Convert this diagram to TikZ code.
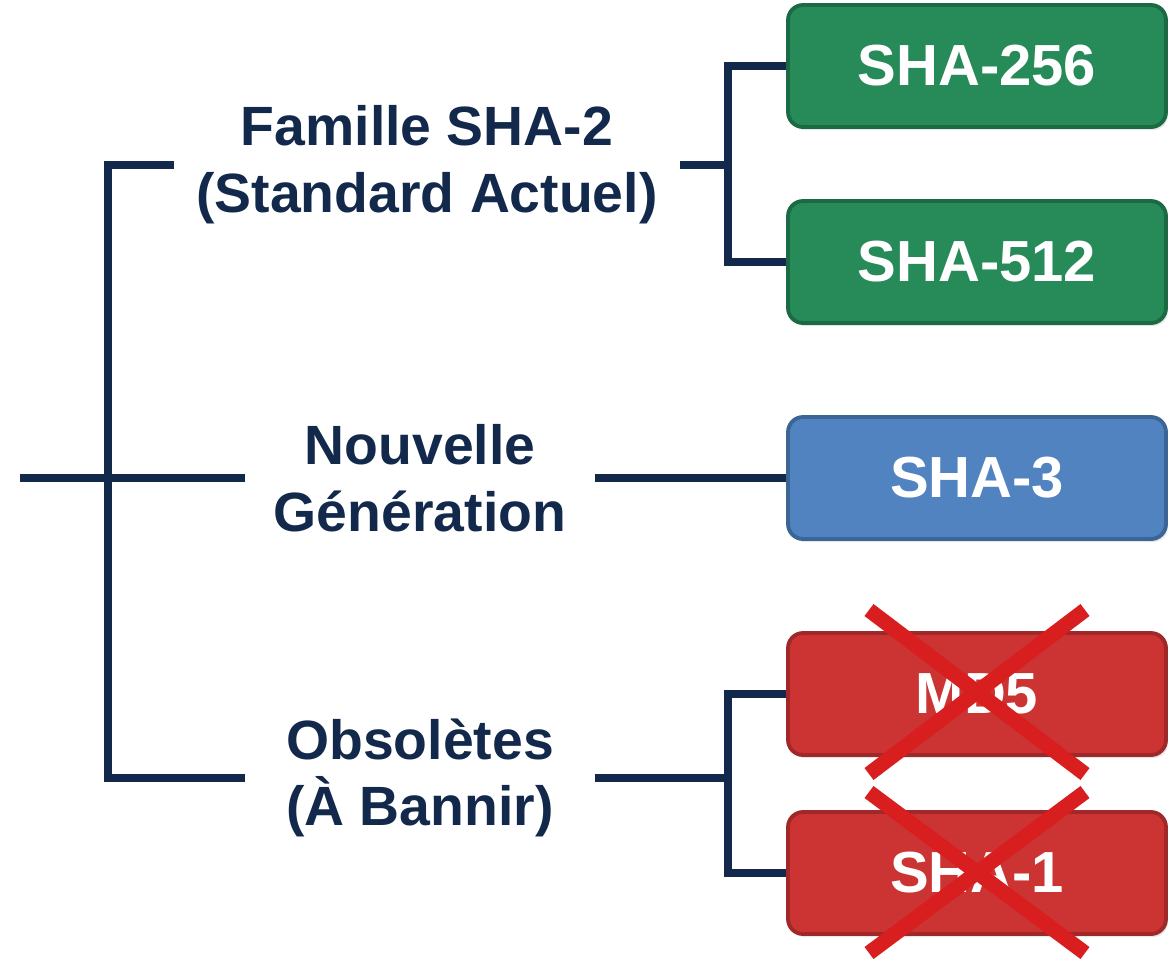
\documentclass[tikz,border=0pt]{standalone}
\usepackage{fontspec}
\setmainfont{Liberation Sans}
\usetikzlibrary{positioning,shadows}

\definecolor{navy}{HTML}{13294B}
\definecolor{okgreen}{HTML}{268B59}
\definecolor{okgreendark}{HTML}{1B6A43}
\definecolor{newblue}{HTML}{5083BF}
\definecolor{newbluedark}{HTML}{3A6596}
\definecolor{oldred}{HTML}{CC3333}
\definecolor{oldreddark}{HTML}{A02828}
\definecolor{crossred}{HTML}{D81E1E}

\begin{document}
\begin{tikzpicture}[
                    x=0.02cm, y=-0.02cm,
                    branch/.style={draw=navy, line width=4.3pt},
                    grouplabel/.style={align=center, text=navy, inner xsep=0pt, inner ysep=2pt,
                                       font=\fontsize{31.5}{38}\selectfont\bfseries},
                    algo/.style={rounded corners=0.3cm, line width=2.2pt, minimum width=7.56cm,
                                 minimum height=2.44cm, text=white,
                                 font=\fontsize{33}{38}\selectfont\bfseries,
                                 drop shadow={opacity=0.2, shadow xshift=0.04cm, shadow yshift=-0.06cm}},
                    safe/.style={algo, fill=okgreen, draw=okgreendark},
                    fresh/.style={algo, fill=newblue, draw=newbluedark},
                    broken/.style={algo, fill=oldred, draw=oldreddark},
                    cross/.style={draw=crossred, line width=0.3cm}
                    ]
    \useasboundingbox (0,0) rectangle (1176,965);

    % families
    \node [grouplabel, minimum width=10.1cm] (fam2) at (427,165) {Famille SHA-2\\(Standard Actuel)};
    \node [grouplabel, minimum width=7cm] (nouv) at (420,478) {Nouvelle\\Génération};
    \node [grouplabel, minimum width=7cm] (obso) at (420,778) {Obsolètes\\(À Bannir)};

    % algorithms
    \node [safe] (sha256) at (977,66) {SHA-256};
    \node [safe] (sha512) at (977,262) {SHA-512};
    \node [fresh] (sha3) at (977,478) {SHA-3};
    \node [broken] (md5) at (977,694) {MD5};
    \node [broken] (sha1) at (977,873) {SHA-1};

    \coordinate (root) at (20,478);
    \coordinate (hub) at (108,478);
    \coordinate (j1) at (728,165);
    \coordinate (j3) at (728,778);

    % tree
    \draw [branch] (fam2.west) -| (hub) |- (obso.west);
    \draw [branch] (root) -- (nouv.west);
    \draw [branch] (fam2.east) -- (j1);
    \draw [branch] (sha256.west) -| (j1) |- (sha512.west);
    \draw [branch] (nouv.east) -- (sha3.west);
    \draw [branch] (obso.east) -- (j3);
    \draw [branch] (md5.west) -| (j3) |- (sha1.west);

    % banned
    \draw [cross] ([shift={(-108,-84)}]md5.center) -- ([shift={(108,80)}]md5.center);
    \draw [cross] ([shift={(-108,80)}]md5.center) -- ([shift={(108,-84)}]md5.center);
    \draw [cross] ([shift={(-108,-81)}]sha1.center) -- ([shift={(108,80)}]sha1.center);
    \draw [cross] ([shift={(-108,80)}]sha1.center) -- ([shift={(108,-81)}]sha1.center);
\end{tikzpicture}
\end{document}
